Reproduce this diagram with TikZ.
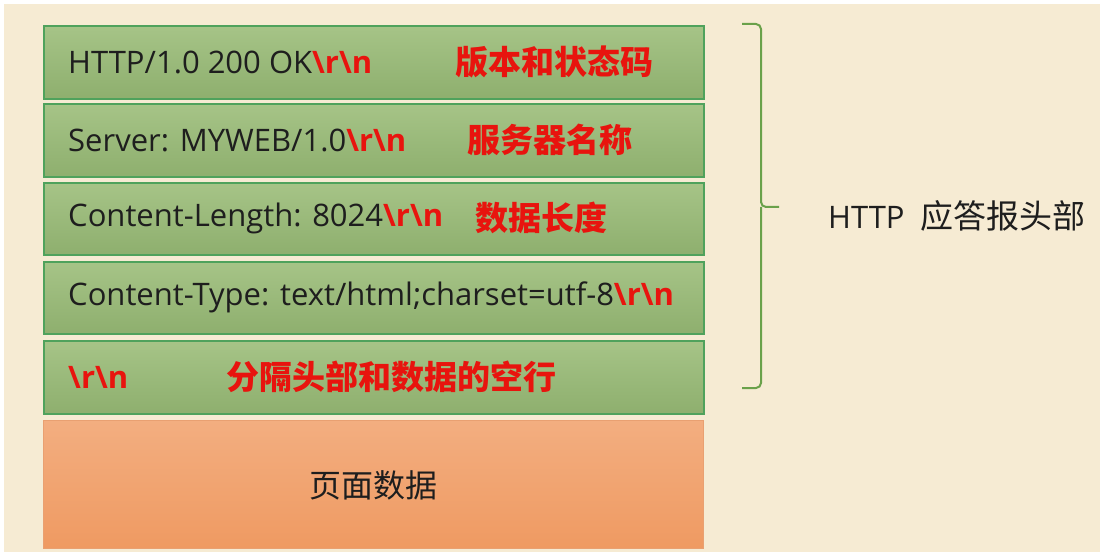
\documentclass[tikz,border=0pt]{standalone}
\usepackage{fontspec}
\setmainfont{Open Sans}
\newfontfamily\cjk{Noto Sans CJK SC}
\definecolor{bg}{HTML}{F6EBD3}
\definecolor{gtop}{HTML}{A6C487}
\definecolor{gbot}{HTML}{8EAF6E}
\definecolor{gline}{HTML}{4FA25C}
\definecolor{otop}{HTML}{F3AE80}
\definecolor{obot}{HTML}{EF9A62}
\definecolor{oline}{HTML}{E9A071}
\definecolor{redtxt}{HTML}{E8140E}
\definecolor{brace}{HTML}{6AA14A}
\definecolor{txt}{HTML}{1E1E1E}
\tikzset{
  greenbox/.style={draw=gline, line width=1.6pt, top color=gtop, bottom color=gbot, minimum width=660pt, anchor=north west, inner sep=0pt},
  orangebox/.style={draw=oline, line width=1.2pt, top color=otop, bottom color=obot, minimum width=660pt, minimum height=128pt, anchor=north west, inner sep=0pt},
  ltext/.style={anchor=west, inner sep=0pt, text=txt, font=\fontsize{31}{36}\selectfont},
  rtext/.style={anchor=west, inner sep=0pt, text=redtxt, font=\cjk\fontsize{33}{38}\selectfont\bfseries},
  ctext/.style={inner sep=0pt, text=txt, font=\cjk\fontsize{32}{38}\selectfont},
}
\newcommand{\crlf}{{\color{redtxt}\bfseries\textbackslash r\textbackslash n}}
\begin{document}
\begin{tikzpicture}[x=1pt,y=-1pt]
\useasboundingbox (0,0) rectangle (1103,556);
\fill[white] (0,0) rectangle (1103,556);
\fill[bg] (4,4) rectangle (1100,552);
% boxes
\node[greenbox, minimum height=73pt] (b1) at (43,25) {};
\node[greenbox, minimum height=73pt] (b2) at (43,103) {};
\node[greenbox, minimum height=72pt] (b3) at (43,182) {};
\node[greenbox, minimum height=72pt] (b4) at (43,261) {};
\node[greenbox, minimum height=73pt] (b5) at (43,340) {};
\node[orangebox] (b6) at (43,420) {};
% texts
\node[ltext] (t1) at (68,62) {HTTP/1.0 200 OK\crlf};
\node[rtext] (c1) at (455,62) {版本和状态码};
\node[ltext] (t2) at (68,140) {Server: MYWEB/1.0\crlf};
\node[rtext] (c2) at (467,140) {服务器名称};
\node[ltext] (t3) at (68,218) {Content-Length: 8024\crlf};
\node[rtext] (c3) at (475,218) {数据长度};
\node[ltext] (t4) at (68,297) {Content-Type: text/html;charset=utf-8\crlf};
\node[ltext] (t5) at (68,377) {\crlf};
\node[rtext] (c5) at (226,377) {分隔头部和数据的空行};
\node[ctext] (t6) at (373,485) {页面数据};
% brace
\coordinate (bt) at (742,24);
\coordinate (bm) at (779,207);
\coordinate (bb) at (742,388);
\draw[brace, line width=2pt, rounded corners=5pt]
  (bt) -- (761,24) -- (761,207) -- (bm);
\draw[brace, line width=2pt, rounded corners=5pt]
  (761,207) -- (761,388) -- (bb);
\node[anchor=west, inner sep=0pt, text=txt, font=\fontsize{31}{36}\selectfont] (lab) at (828,216) {HTTP\ \ {\cjk\fontsize{33}{38}\selectfont 应答报头部}};
\end{tikzpicture}
\end{document}
